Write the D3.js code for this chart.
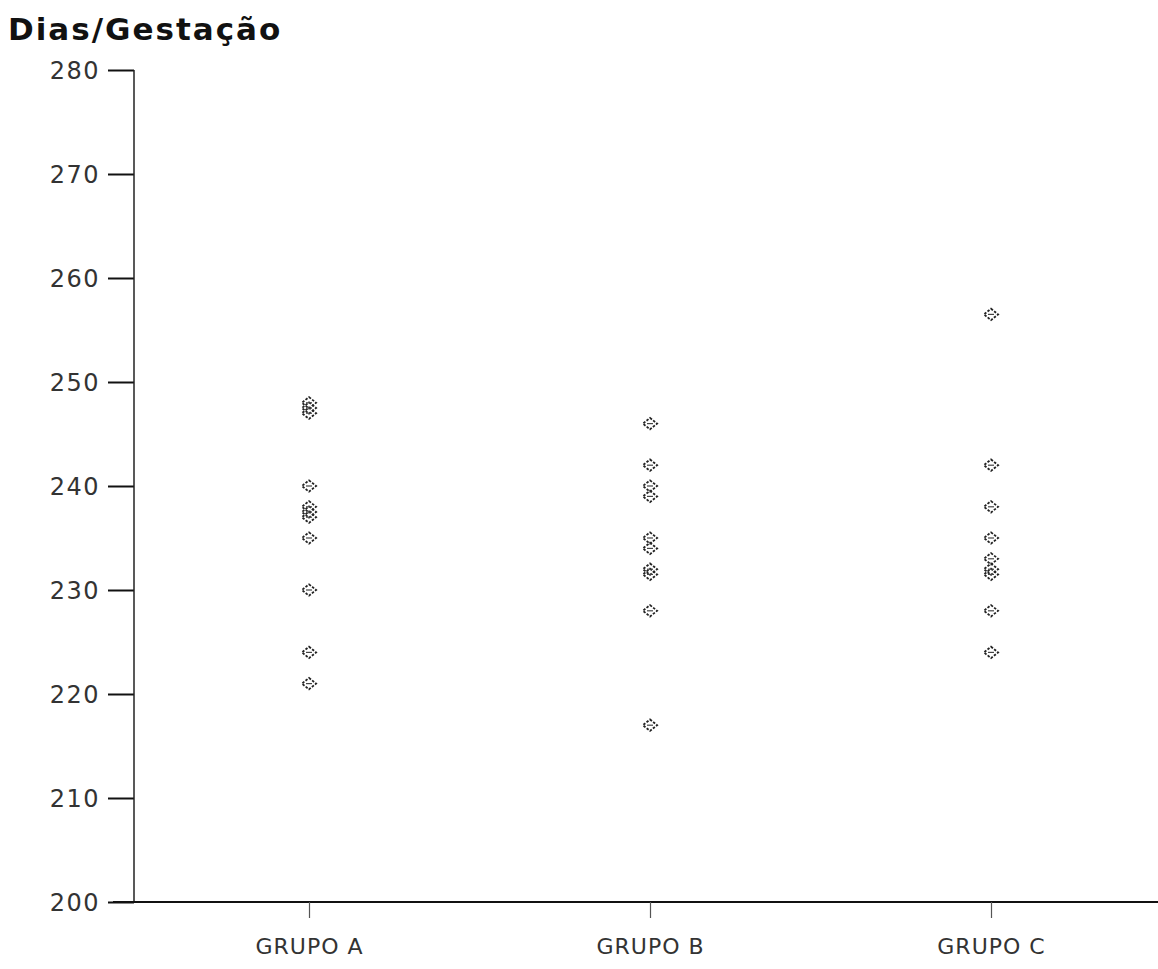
<!DOCTYPE html>
<html>
<head>
<meta charset="utf-8">
<script src="https://cdn.jsdelivr.net/npm/d3@7"></script>
<style>
  body { margin: 0; background: #fff; }
  svg text { font-family: "DejaVu Sans", sans-serif; fill: #222; }
</style>
</head>
<body>
<svg id="chart" width="1158" height="969"></svg>
<script>
// data
const groups = ["GRUPO A", "GRUPO B", "GRUPO C"];
const grupoA = [248, 247.5, 247, 240, 238, 237.5, 237, 235, 230, 224, 221];
const grupoB = [246, 242, 240, 239, 235, 234, 232, 231.5, 228, 217];
const grupoC = [256.5, 242, 238, 235, 233, 232, 231.5, 228, 224];
const yTicks = [200, 210, 220, 230, 240, 250, 260, 270, 280];

const svg = d3.select("svg#chart");

// scales
const x = d3.scalePoint().domain(groups).range([309, 991]);
const y = d3.scaleLinear().domain([200, 280]).range([902, 70]);
const axisX = 134;

// title
svg.append("text")
    .attr("x", 8).attr("y", 40)
    .style("font-size", "31px")
    .style("font-weight", "bold")
    .style("letter-spacing", "2px")
    .style("fill", "#111")
    .text("Dias/Gestação");

// y axis
const yAxis = d3.axisLeft(y).tickValues(yTicks).tickSize(26).tickPadding(8).tickFormat(d3.format("d"));
const gy = svg.append("g").attr("transform", `translate(${axisX},0)`).call(yAxis);
gy.select(".domain").remove();
gy.selectAll(".tick line").attr("stroke", "#111").attr("stroke-width", 2);
gy.selectAll(".tick text")
    .style("font-size", "24px")
    .style("letter-spacing", "1.5px")
    .style("fill", "#333")
    .attr("dy", "0.36em");
svg.append("line")
    .attr("x1", axisX).attr("x2", axisX)
    .attr("y1", y(280)).attr("y2", y(200))
    .attr("stroke", "#222").attr("stroke-width", 1.5);

// x axis
svg.append("line")
    .attr("x1", 113).attr("x2", 1158)
    .attr("y1", y(200)).attr("y2", y(200))
    .attr("stroke", "#111").attr("stroke-width", 2);
const xAxis = d3.axisBottom(x).tickSize(16).tickPadding(20);
const gx = svg.append("g").attr("transform", `translate(0,${y(200)})`).call(xAxis);
gx.select(".domain").remove();
gx.selectAll(".tick line").attr("stroke", "#555").attr("stroke-width", 1.2);
gx.selectAll(".tick text")
    .style("font-size", "22px")
    .style("letter-spacing", "1px")
    .style("fill", "#333");

// point marker: squat diamond, like the plotter's
const marker = {
    draw(ctx, size) {
        const w = Math.sqrt(size) * 0.75, h = Math.sqrt(size) * 0.6;
        ctx.moveTo(0, -h);
        ctx.lineTo(w, 0);
        ctx.lineTo(0, h);
        ctx.lineTo(-w, 0);
        ctx.closePath();
    }
};
const symbol = d3.symbol().type(marker).size(90);
const series = [grupoA, grupoB, grupoC];
series.forEach((vals, i) => {
    const g = svg.append("g");
    g.selectAll("path.pt")
        .data(vals)
        .join("path")
        .attr("class", "pt")
        .attr("transform", d => `translate(${x(groups[i])},${y(d)})`)
        .attr("d", symbol)
        .attr("fill", "none")
        .attr("stroke", "#222")
        .attr("stroke-width", 1.8)
        .attr("stroke-dasharray", "2.5,1.5");
    g.selectAll("line.pt")
        .data(vals)
        .join("line")
        .attr("class", "pt")
        .attr("x1", x(groups[i]) - 3).attr("x2", x(groups[i]) + 3)
        .attr("y1", d => y(d)).attr("y2", d => y(d))
        .attr("stroke", "#444").attr("stroke-width", 1.2);
});
</script>
</body>
</html>
